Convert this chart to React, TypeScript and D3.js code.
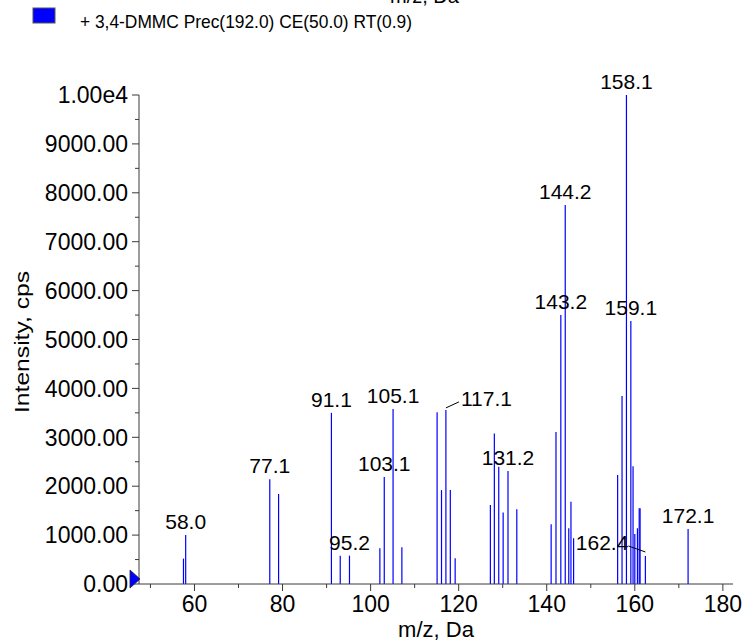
import React from 'react'
import * as d3 from 'd3'

// peak list: m/z and intensity (cps)
const peakMz = [
  57.5, 58.0, 77.1, 79.1, 91.1, 93.1, 95.2, 102.1, 103.1, 105.1, 107.1,
  115.1, 116.1, 117.1, 118.1, 119.2, 127.2, 128.1, 129.1, 130.1, 131.2, 133.2,
  141.0, 142.1, 143.2, 144.2, 145.0, 145.5, 146.1,
  156.1, 157.1, 158.1, 159.1, 159.6, 160.0, 160.6, 161.0, 161.2, 162.4, 172.1
]
const peakIntensity = [
  520, 1000, 2140, 1840, 3500, 580, 580, 730, 2190, 3580, 750,
  3510, 1920, 3560, 1920, 525, 1615, 3080, 2400, 1460, 2310, 1530,
  1220, 3110, 5500, 7750, 1140, 1680, 935,
  2230, 3845, 10000, 5380, 2410, 1020, 1140, 1550, 1550, 573, 1125
]

// labelled peaks
const labelMz = [58.0, 77.1, 91.1, 95.2, 103.1, 105.1, 117.1, 131.2, 143.2, 144.2, 158.1, 159.1, 162.4, 172.1]
const labelText = ['58.0', '77.1', '91.1', '95.2', '103.1', '105.1', '117.1', '131.2', '143.2', '144.2', '158.1', '159.1', '162.4', '172.1']

const yTicks = d3.range(0, 10001, 1000)
const yMinorTicks = d3.range(500, 10000, 1000)
const xTicks = [60, 80, 100, 120, 140, 160, 180]
const xMinorTicks = [50, 70, 90, 110, 130, 150, 170]

const legendText = '+ 3,4-DMMC Prec(192.0) CE(50.0) RT(0.9)'
const xTitle = 'm/z, Da'
const yTitle = 'Intensity, cps'

const FONT = '"Liberation Sans", Arial, sans-serif'
const AXIS = '#3a3a3a'
const BLUE = '#0000ff'

const App: React.FC = () => {
  const width = 742
  const height = 641
  const left = 139
  const right = 733
  const top = 95
  const bottom = 584

  const x = d3.scaleLinear().domain([47.4, 182.3]).range([left, right])
  const y = d3.scaleLinear().domain([0, 10000]).range([bottom, top])

  const intensityAt = (mz: number) => {
    const i = peakMz.indexOf(mz)
    return i >= 0 ? peakIntensity[i] : 0
  }

  const yLabel = (v: number) => (v === 10000 ? '1.00e4' : v.toFixed(2))

  return (
    <svg
      width={width}
      height={height}
      style={{ position: 'absolute', left: 0, top: 0, background: '#fff' }}
      fontFamily={FONT}
    >
      {/* cut-off title at the top */}
      <text x={390} y={3} fontSize={20} fill="#000">{xTitle}</text>

      {/* legend */}
      <rect x={33} y={8} width={22} height={15} fill={BLUE} stroke="#555" strokeWidth={1} />
      <text x={80} y={28} fontSize={18.5} fill="#000" textLength={332} lengthAdjust="spacingAndGlyphs">
        {legendText}
      </text>

      {/* peaks */}
      <g stroke={BLUE} strokeWidth={1.2}>
        {peakMz.map((mz, i) => (
          <line key={i} x1={x(mz)} x2={x(mz)} y1={y(0)} y2={y(peakIntensity[i])} />
        ))}
      </g>

      {/* y axis */}
      <g stroke={AXIS} strokeWidth={1}>
        <line x1={left} x2={left} y1={top} y2={bottom} />
        {yTicks.map(v => (
          <line key={'yt' + v} x1={left - 7} x2={left} y1={y(v)} y2={y(v)} />
        ))}
        {yMinorTicks.map(v => (
          <line key={'ym' + v} x1={left - 4} x2={left} y1={y(v)} y2={y(v)} />
        ))}
      </g>
      <g fontSize={23} fill="#000" textAnchor="end">
        {yTicks.map(v => (
          <text key={'yl' + v} x={128} y={y(v)} dy="0.36em">{yLabel(v)}</text>
        ))}
      </g>
      <text
        transform={`translate(29,342) rotate(-90)`}
        textAnchor="middle"
        fontSize={20}
        textLength={142}
        lengthAdjust="spacingAndGlyphs"
      >
        {yTitle}
      </text>

      {/* x axis */}
      <g stroke={AXIS} strokeWidth={1}>
        <line x1={left} x2={right} y1={bottom} y2={bottom} />
        {xTicks.map(v => (
          <line key={'xt' + v} x1={x(v)} x2={x(v)} y1={bottom} y2={bottom + 7} />
        ))}
        {xMinorTicks.map(v => (
          <line key={'xm' + v} x1={x(v)} x2={x(v)} y1={bottom} y2={bottom + 4} />
        ))}
      </g>
      <g fontSize={23} fill="#000" textAnchor="middle">
        {xTicks.map(v => (
          <text key={'xl' + v} x={x(v)} y={612}>{v}</text>
        ))}
      </g>
      <text x={436} y={637} textAnchor="middle" fontSize={22}>{xTitle}</text>

      {/* origin marker */}
      <path d="M130,570 L130,588 L140,579 Z" fill={BLUE} stroke="#222" strokeWidth={0.8} />

      {/* peak labels */}
      <g fontSize={21} fill="#000">
        {labelMz.map((mz, i) => {
          const px = x(mz)
          const py = y(intensityAt(mz))
          if (labelText[i] === '117.1') {
            return (
              <g key={'pl' + i}>
                <line x1={px} y1={py - 2} x2={px + 13} y2={py - 8} stroke="#000" strokeWidth={1} />
                <text x={px + 15} y={py - 4}>{labelText[i]}</text>
              </g>
            )
          }
          if (labelText[i] === '162.4') {
            return (
              <g key={'pl' + i}>
                <line x1={px} y1={py - 4} x2={px - 17} y2={py - 10} stroke="#000" strokeWidth={1} />
                <text x={px - 17} y={py - 6} textAnchor="end">{labelText[i]}</text>
              </g>
            )
          }
          return (
            <text key={'pl' + i} x={px} y={py - 6} textAnchor="middle">{labelText[i]}</text>
          )
        })}
      </g>
    </svg>
  )
}

export default App
